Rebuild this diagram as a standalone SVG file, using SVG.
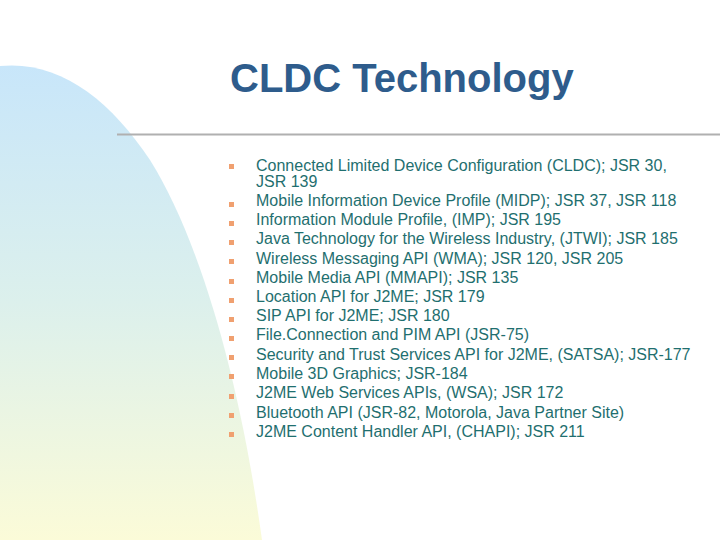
<svg xmlns="http://www.w3.org/2000/svg" width="720" height="540" viewBox="0 0 720 540">
<defs>
<linearGradient id="g" x1="0" y1="0" x2="0" y2="1">
<stop offset="0" stop-color="#c8e6fa"/>
<stop offset="0.5" stop-color="#dcf0ec"/>
<stop offset="1" stop-color="#fbfbd8"/>
</linearGradient>
<style>
.t{font-family:"Liberation Sans",Arial,sans-serif;font-size:16px;fill:#1f6f6f}
.b{fill:#f0a070}
</style>
</defs>
<rect width="720" height="540" fill="#fff"/>
<path d="M0,66 C60,60 110,100 150,160 C200,240 240,380 262,540 L0,540 Z" fill="url(#g)"/>
<line x1="117" y1="134.5" x2="720" y2="134.5" stroke="#b0b0b0" stroke-width="2"/>
<text x="230" y="92" style="font-family:'Liberation Sans',Arial,sans-serif;font-size:40px;font-weight:bold;fill:#2e5c8c">CLDC Technology</text>
<g id="bullets" class="b">
<rect x="229" y="164" width="5" height="5"/>
<rect x="229" y="202" width="5" height="5"/>
<rect x="229" y="221" width="5" height="5"/>
<rect x="229" y="240" width="5" height="5"/>
<rect x="229" y="259" width="5" height="5"/>
<rect x="229" y="279" width="5" height="5"/>
<rect x="229" y="298" width="5" height="5"/>
<rect x="229" y="317" width="5" height="5"/>
<rect x="229" y="336" width="5" height="5"/>
<rect x="229" y="355" width="5" height="5"/>
<rect x="229" y="374" width="5" height="5"/>
<rect x="229" y="394" width="5" height="5"/>
<rect x="229" y="413" width="5" height="5"/>
<rect x="229" y="432" width="5" height="5"/>
</g>
<g id="items" class="t">
<text x="256" y="171">Connected Limited Device Configuration (CLDC); JSR 30,</text>
<text x="256" y="187">JSR 139</text>
<text x="256" y="206">Mobile Information Device Profile (MIDP); JSR 37, JSR 118</text>
<text x="256" y="225">Information Module Profile, (IMP); JSR 195</text>
<text x="256" y="244">Java Technology for the Wireless Industry, (JTWI); JSR 185</text>
<text x="256" y="264">Wireless Messaging API (WMA); JSR 120, JSR 205</text>
<text x="256" y="283">Mobile Media API (MMAPI); JSR 135</text>
<text x="256" y="302">Location API for J2ME; JSR 179</text>
<text x="256" y="321">SIP API for J2ME; JSR 180</text>
<text x="256" y="340">File.Connection and PIM API (JSR-75)</text>
<text x="256" y="360">Security and Trust Services API for J2ME, (SATSA); JSR-177</text>
<text x="256" y="379">Mobile 3D Graphics; JSR-184</text>
<text x="256" y="398">J2ME Web Services APIs, (WSA); JSR 172</text>
<text x="256" y="418">Bluetooth API (JSR-82, Motorola, Java Partner Site)</text>
<text x="256" y="437">J2ME Content Handler API, (CHAPI); JSR 211</text>
</g>
</svg>
